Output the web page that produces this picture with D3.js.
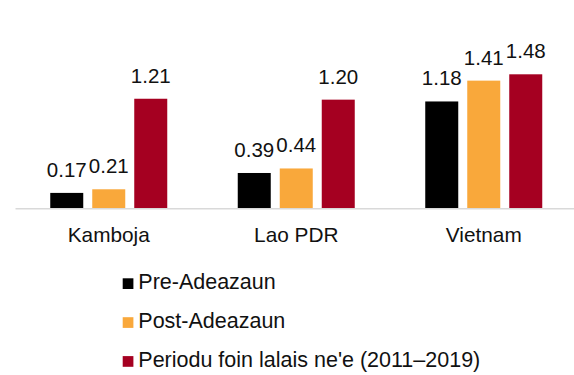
<!DOCTYPE html>
<html>
<head>
<meta charset="utf-8">
<script src="https://cdn.jsdelivr.net/npm/d3@7"></script>
<style>
  html, body { margin: 0; padding: 0; background: #fff; }
  svg { display: block; font-family: "Liberation Sans", Arial, sans-serif; }
</style>
</head>
<body>
<svg id="chart" width="574" height="375"></svg>
<script>
// Countries along the x axis
const categories = ["Kamboja", "Lao PDR", "Vietnam"];
// Series names, in legend order
const seriesNames = ["Pre-Adeazaun", "Post-Adeazaun", "Periodu foin lalais ne'e (2011\u20132019)"];
// Values per series, one per country
const preValues = [0.17, 0.39, 1.18];
const postValues = [0.21, 0.44, 1.41];
const recentValues = [1.21, 1.20, 1.48];
const seriesValues = [preValues, postValues, recentValues];
const seriesColors = ["#000000", "#F9A83B", "#A50021"];

const svg = d3.select("#chart");
const baseY = 208.3;

const x0 = d3.scaleBand().domain(categories).range([15, 577.5]).paddingInner(0).paddingOuter(0);
const groupHalf = 58.5;
const x1 = d3.scaleBand().domain(d3.range(seriesNames.length))
  .range([0, groupHalf * 2]).paddingInner(9 / 42).paddingOuter(0);
const y = d3.scaleLinear().domain([0, 1.48]).range([baseY, 74.3]);

// Bars and value labels
categories.forEach((cat, ci) => {
  const gx = x0(cat) + x0.bandwidth() / 2 - groupHalf;
  const g = svg.append("g").attr("transform", `translate(${gx},0)`);
  seriesValues.forEach((vals, si) => {
    const v = vals[ci];
    g.append("rect")
      .attr("x", x1(si))
      .attr("y", y(v))
      .attr("width", x1.bandwidth())
      .attr("height", y(0) - y(v))
      .attr("fill", seriesColors[si]);
    g.append("text")
      .attr("x", x1(si) + x1.bandwidth() / 2)
      .attr("y", y(v) - 16)
      .attr("text-anchor", "middle")
      .attr("font-size", "20.5px")
      .attr("fill", "#111")
      .text(v.toFixed(2));
  });
});

// Category axis
const xAxis = d3.axisBottom(x0).tickSize(0).tickPadding(0);
const axisG = svg.append("g").attr("transform", `translate(0,${baseY})`).call(xAxis);
axisG.select(".domain").attr("stroke", "#d9d9d9").attr("stroke-width", 1.5);
axisG.selectAll(".tick text")
  .attr("y", 33.4)
  .attr("dy", null)
  .attr("font-size", "20.8px")
  .attr("font-family", "Liberation Sans, Arial, sans-serif")
  .attr("fill", "#111");

// Legend
const legend = svg.append("g").attr("transform", "translate(122.7,0)");
seriesNames.forEach((name, i) => {
  const by = 289.3 + i * 38.9;
  legend.append("rect")
    .attr("x", 0).attr("y", by - 11)
    .attr("width", 10.7).attr("height", 10.7)
    .attr("fill", seriesColors[i]);
  legend.append("text")
    .attr("x", 15.6).attr("y", by)
    .attr("font-size", "21.5px")
    .attr("fill", "#111")
    .text(name);
});
</script>
</body>
</html>
